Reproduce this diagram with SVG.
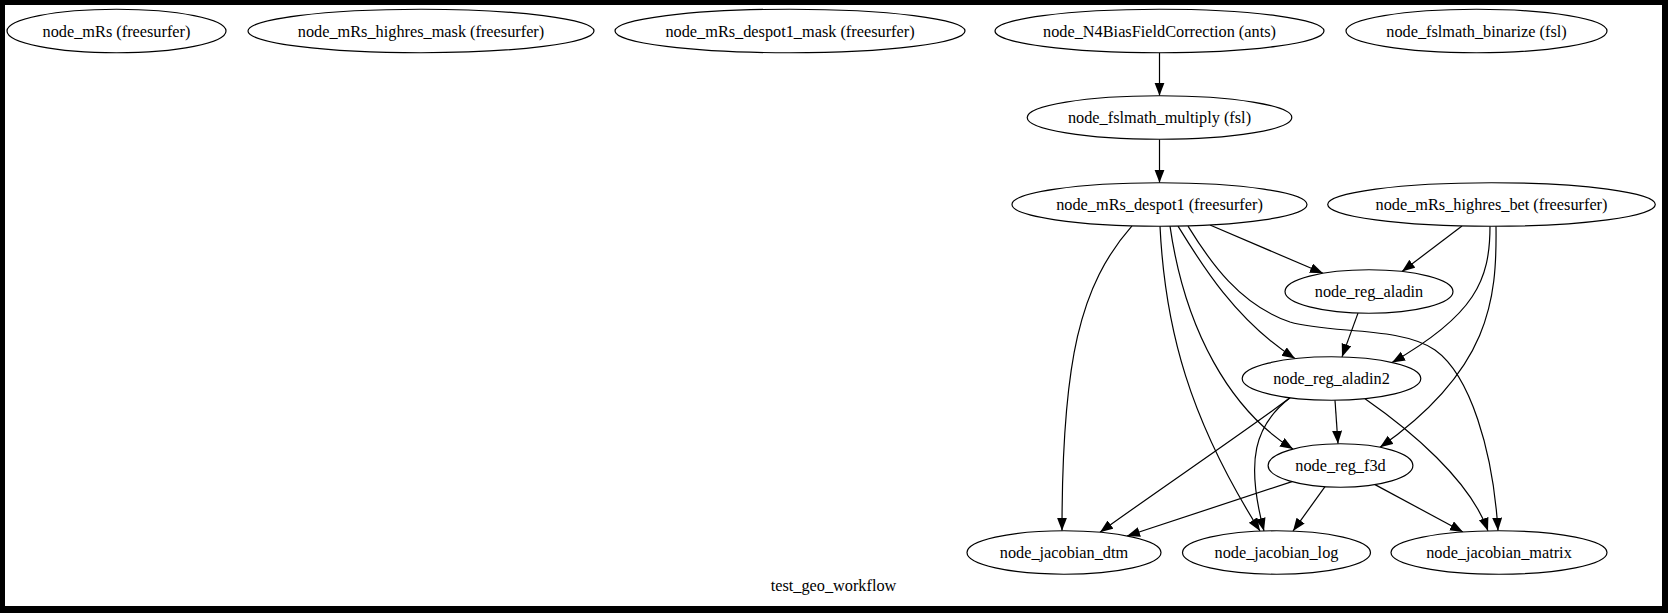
<svg xmlns="http://www.w3.org/2000/svg" width="1668" height="613" viewBox="0 0 1668 613">
<style>
.node ellipse{fill:#fff;stroke:#000;stroke-width:1.2}
.node text,.lbl{font-family:"Liberation Serif","Times New Roman",serif;font-size:16.3px;fill:#000;text-anchor:middle}
.edges path{fill:none;stroke:#000;stroke-width:1.2;marker-end:url(#arr)}
</style>
<defs>
<marker id="arr" markerUnits="userSpaceOnUse" markerWidth="14" markerHeight="11" refX="13" refY="5" orient="auto">
<path d="M0,0 L13,5 L0,10 z" fill="#000"/>
</marker>
</defs>
<rect x="0" y="0" width="1668" height="613" fill="#000"/>
<rect x="5" y="5" width="1657" height="601" fill="#fff"/>
<g class="edges" id="edges">
<path d="M1159.5,52.3 L1159.5,95.7"/>
<path d="M1159.5,139.3 L1159.5,182.7"/>
<path d="M1210,225 L1323,273.3"/>
<path d="M1462,226 L1402,271.5"/>
<path d="M1358,313.1 L1342,356.9"/>
<path d="M1178,226.1 C1200,262 1235,320 1295,358.6"/>
<path d="M1490,226.2 C1490,280 1475,315 1392,362.5"/>
<path d="M1170,226.1 C1185,330 1230,410 1293,449.1"/>
<path d="M1335,400.2 L1338,443.75"/>
<path d="M1496,226.2 C1497,300 1490,370 1380,447.3"/>
<path d="M1132,225.9 C1080,285 1062,360 1062,530.75"/>
<path d="M1290,397.8 C1250,428 1150,496 1100,532.3"/>
<path d="M1292,481.6 L1127,536"/>
<path d="M1160,226.1 C1165,330 1190,420 1260,531"/>
<path d="M1290,397.8 C1255,425 1245,460 1264,531"/>
<path d="M1325,486.7 L1293,531.1"/>
<path d="M1188,226.1 C1210,262 1240,305 1290,322 C1330,334 1400,326 1435,350 C1470,375 1493,450 1498,530.75"/>
<path d="M1365,398.7 C1410,430 1470,480 1488,530.9"/>
<path d="M1375,484.6 L1463,532"/>
</g>
<g class="node" id="node_mRs"><ellipse cx="116.5" cy="31" rx="109.5" ry="21.75"/><text x="116.5" y="36.5">node_mRs (freesurfer)</text></g>
<g class="node" id="node_mRs_highres_mask"><ellipse cx="421" cy="31" rx="173" ry="21.75"/><text x="421" y="36.5">node_mRs_highres_mask (freesurfer)</text></g>
<g class="node" id="node_mRs_despot1_mask"><ellipse cx="790" cy="31" rx="175" ry="21.75"/><text x="790" y="36.5">node_mRs_despot1_mask (freesurfer)</text></g>
<g class="node" id="node_N4BiasFieldCorrection"><ellipse cx="1159.5" cy="31" rx="164.5" ry="21.75"/><text x="1159.5" y="36.5">node_N4BiasFieldCorrection (ants)</text></g>
<g class="node" id="node_fslmath_binarize"><ellipse cx="1476.5" cy="31" rx="130.5" ry="21.75"/><text x="1476.5" y="36.5">node_fslmath_binarize (fsl)</text></g>
<g class="node" id="node_fslmath_multiply"><ellipse cx="1159.5" cy="117.5" rx="132.3" ry="21.75"/><text x="1159.5" y="123">node_fslmath_multiply (fsl)</text></g>
<g class="node" id="node_mRs_despot1"><ellipse cx="1159.5" cy="204.5" rx="147.5" ry="21.75"/><text x="1159.5" y="210">node_mRs_despot1 (freesurfer)</text></g>
<g class="node" id="node_mRs_highres_bet"><ellipse cx="1491.5" cy="204.5" rx="163.8" ry="21.75"/><text x="1491.5" y="210">node_mRs_highres_bet (freesurfer)</text></g>
<g class="node" id="node_reg_aladin"><ellipse cx="1369" cy="291.5" rx="84" ry="21.75"/><text x="1369" y="297">node_reg_aladin</text></g>
<g class="node" id="node_reg_aladin2"><ellipse cx="1331.5" cy="378.5" rx="89.3" ry="21.75"/><text x="1331.5" y="384">node_reg_aladin2</text></g>
<g class="node" id="node_reg_f3d"><ellipse cx="1340.5" cy="465.5" rx="72.4" ry="21.75"/><text x="1340.5" y="471">node_reg_f3d</text></g>
<g class="node" id="node_jacobian_dtm"><ellipse cx="1064" cy="552.5" rx="97" ry="21.75"/><text x="1064" y="558">node_jacobian_dtm</text></g>
<g class="node" id="node_jacobian_log"><ellipse cx="1276.5" cy="552.5" rx="94" ry="21.75"/><text x="1276.5" y="558">node_jacobian_log</text></g>
<g class="node" id="node_jacobian_matrix"><ellipse cx="1499" cy="552.5" rx="108" ry="21.75"/><text x="1499" y="558">node_jacobian_matrix</text></g>
<text class="lbl" x="833.5" y="591">test_geo_workflow</text>
</svg>
